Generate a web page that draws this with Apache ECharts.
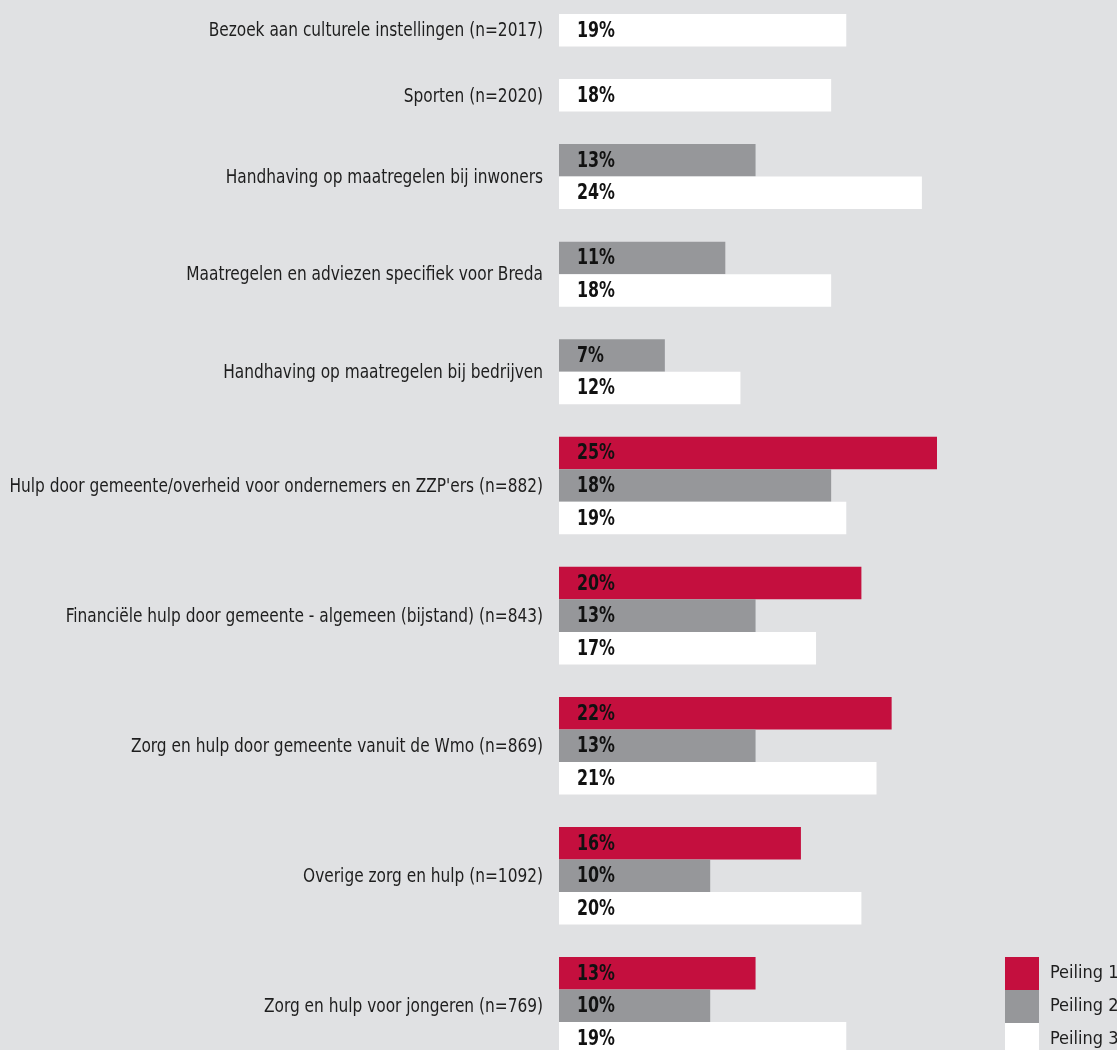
<!DOCTYPE html>
<html>
<head>
<meta charset="utf-8">
<script src="https://cdn.jsdelivr.net/npm/echarts@6/dist/echarts.min.js"></script>
<style>
html,body{margin:0;padding:0;background:#e0e1e3;}
#chart{width:1117px;height:1050px;}
</style>
</head>
<body>
<div id="chart"></div>
<script>
const categories = [
  'Bezoek aan culturele instellingen (n=2017)',
  'Sporten (n=2020)',
  'Handhaving op maatregelen bij inwoners',
  'Maatregelen en adviezen specifiek voor Breda',
  'Handhaving op maatregelen bij bedrijven',
  "Hulp door gemeente/overheid voor ondernemers en ZZP'ers (n=882)",
  'Financiële hulp door gemeente - algemeen (bijstand) (n=843)',
  'Zorg en hulp door gemeente vanuit de Wmo (n=869)',
  'Overige zorg en hulp (n=1092)',
  'Zorg en hulp voor jongeren (n=769)'
];
const seriesNames = ['Peiling 1', 'Peiling 2', 'Peiling 3'];
const peiling1 = [null, null, null, null, null, 25, 20, 22, 16, 13];
const peiling2 = [null, null, 13, 11, 7, 18, 13, 13, 10, 10];
const peiling3 = [19, 18, 24, 18, 12, 19, 17, 21, 20, 19];
const allSeries = [peiling1, peiling2, peiling3];
const colors = ['#c40f3e', '#96979a', '#ffffff'];

const FONT = "'DejaVu Sans Condensed', 'Liberation Sans Narrow', sans-serif";

// layout rows: each bar takes one row, one empty row between groups
const barData = [[], [], []];
const labelData = [];
let row = 0;
categories.forEach((c, i) => {
  const present = [];
  allSeries.forEach((s, k) => { if (s[i] != null) present.push(k); });
  present.forEach((k, j) => { barData[k].push([allSeries[k][i], row + j]); });
  labelData.push([0, row + present.length / 2]);
  row += present.length + 1;
});

const GRID_TOP = 14;
const ROW_H = 32.52;
const yMax = (1050 - GRID_TOP) / ROW_H;

function barRender(params, api) {
  const v = api.value(0), r = api.value(1);
  const p0 = api.coord([0, r]);
  const p1 = api.coord([v, r + 1]);
  return {
    type: 'group',
    children: [
      { type: 'rect', shape: { x: p0[0], y: p0[1], width: p1[0] - p0[0], height: p1[1] - p0[1] },
        style: { fill: api.visual('color') } },
      { type: 'text', x: p0[0] + 18, y: (p0[1] + p1[1]) / 2 + 1, scaleX: 0.84,
        style: { text: v + '%', fill: '#111111', font: 'bold 21px ' + FONT, align: 'left', verticalAlign: 'middle' } }
    ]
  };
}

function catRender(params, api) {
  const p = api.coord([0, api.value(1)]);
  return {
    type: 'text', x: p[0] - 16, y: p[1] + 1, scaleX: 0.855,
    style: { text: categories[params.dataIndex], fill: '#1e1e1e', font: '20px ' + FONT, align: 'right', verticalAlign: 'middle' }
  };
}

const series = seriesNames.map((name, k) => ({
  name: name,
  type: 'custom',
  renderItem: barRender,
  itemStyle: { color: colors[k] },
  encode: { x: 0, y: 1 },
  data: barData[k]
}));
series.push({
  name: 'labels',
  type: 'custom',
  renderItem: catRender,
  encode: { x: 0, y: 1 },
  silent: true,
  data: labelData
});

const chart = echarts.init(document.getElementById('chart'));
chart.setOption({
  animation: false,
  backgroundColor: '#e0e1e3',
  color: colors,
  grid: { left: 559, right: 1117 - 559 - 378, top: GRID_TOP, bottom: 0 },
  xAxis: { type: 'value', min: 0, max: 25, show: false },
  yAxis: { type: 'value', min: 0, max: yMax, inverse: true, show: false },
  legend: {
    data: seriesNames,
    orient: 'vertical',
    left: 1005,
    top: 957,
    height: 150,
    padding: 0,
    itemGap: 0,
    itemWidth: 34,
    itemHeight: 33,
    icon: 'rect',
    selectedMode: false,
    textStyle: { fontFamily: FONT, fontSize: 18, color: '#1e1e1e', padding: [0, 0, 0, 6] }
  },
  series: series
});
</script>
</body>
</html>
